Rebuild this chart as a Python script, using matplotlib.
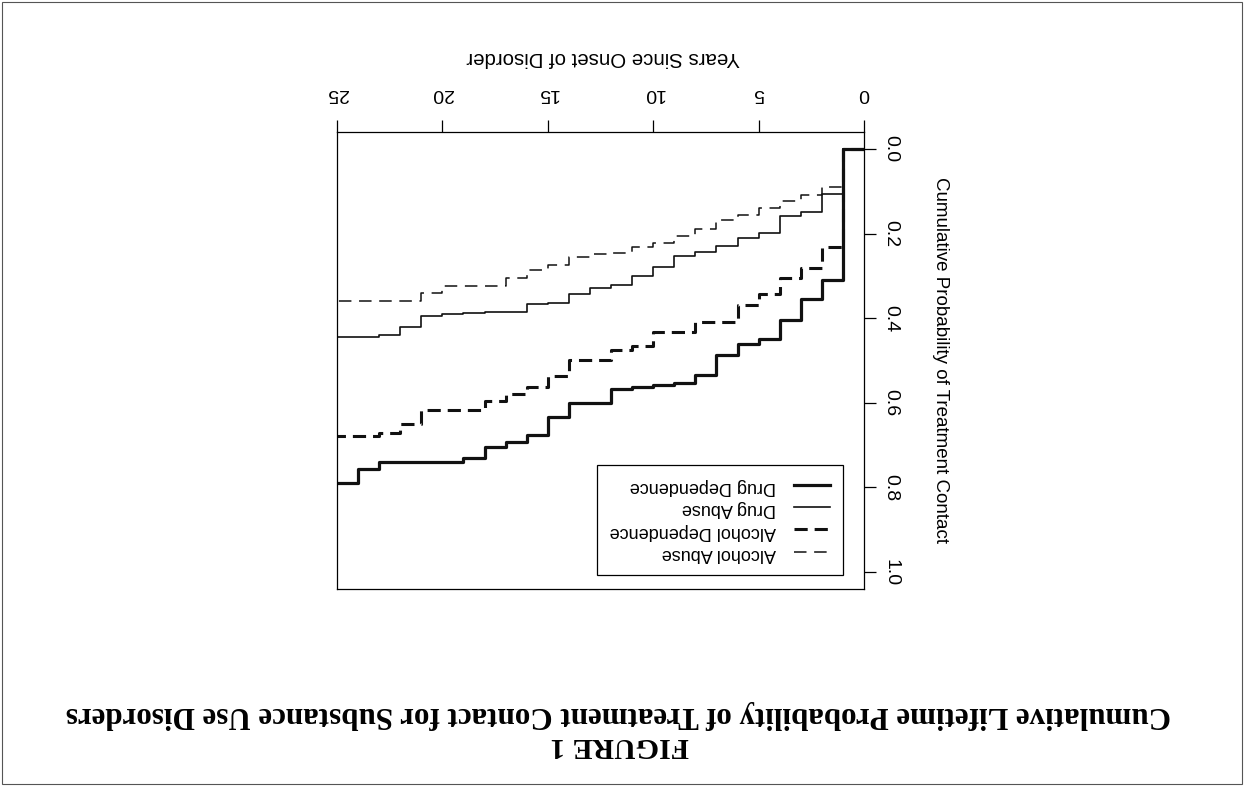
import matplotlib
matplotlib.use('Agg')
import matplotlib.pyplot as plt
from matplotlib.patches import Rectangle

plt.rcParams['font.family'] = ['Liberation Sans', 'DejaVu Sans']
plt.rcParams['lines.scale_dashes'] = False

# years since onset; each value holds from that year to the next one
years = list(range(26))
drug_dependence = [0.0, 0.31, 0.355, 0.404, 0.45, 0.46, 0.487, 0.534, 0.552, 0.558,
                   0.562, 0.568, 0.600, 0.600, 0.633, 0.676, 0.692, 0.704, 0.731, 0.739,
                   0.739, 0.739, 0.739, 0.757, 0.789]
drug_abuse = [0.0, 0.106, 0.148, 0.158, 0.199, 0.211, 0.229, 0.243, 0.253, 0.278,
              0.300, 0.322, 0.329, 0.343, 0.363, 0.366, 0.386, 0.386, 0.388, 0.390,
              0.396, 0.420, 0.440, 0.445, 0.445]
alcohol_dependence = [0.0, 0.231, 0.281, 0.306, 0.344, 0.369, 0.408, 0.408, 0.432, 0.432,
                      0.466, 0.475, 0.500, 0.500, 0.536, 0.562, 0.578, 0.595, 0.617, 0.617,
                      0.617, 0.649, 0.671, 0.679, 0.679]
alcohol_abuse = [0.0, 0.091, 0.110, 0.124, 0.140, 0.156, 0.169, 0.189, 0.205, 0.223,
                 0.232, 0.247, 0.249, 0.256, 0.274, 0.286, 0.306, 0.324, 0.324, 0.324,
                 0.340, 0.360, 0.360, 0.360, 0.360]

labels = ['Drug Dependence', 'Drug Abuse', 'Alcohol Dependence', 'Alcohol Abuse']
xticks = [0, 5, 10, 15, 20, 25]
yticks = [0.0, 0.2, 0.4, 0.6, 0.8, 1.0]
ytick_labels = ['0.0', '0.2', '0.4', '0.6', '0.8', '1.0']

W, H = 1246, 786
fig = plt.figure(figsize=(W / 100, H / 100), dpi=100)
ax = fig.add_axes([337 / W, 1 - 589 / H, (864 - 337) / W, (589 - 132) / H])

ink = '#111111'
# the scanned page is upside down, so both axes are reversed
l_aa, = ax.step(years, alcohol_abuse + alcohol_abuse[-1:], where='post', color=ink, lw=1.1, dashes=(9.0, 5.5))
l_ad, = ax.step(years, alcohol_dependence + alcohol_dependence[-1:], where='post', color=ink, lw=2.2, dashes=(9.5, 5.0))
l_da, = ax.step(years, drug_abuse + drug_abuse[-1:], where='post', color=ink, lw=1.2)
l_dd, = ax.step(years, drug_dependence + drug_dependence[-1:], where='post', color=ink, lw=2.3)

ax.set_xlim(25, 0)
ax.set_ylim(1.04, -0.04)
ax.xaxis.tick_top()
ax.yaxis.tick_right()
ax.set_xticks(xticks)
ax.set_yticks(yticks, ytick_labels)
ax.tick_params(axis='both', direction='out', length=8.5, width=0.9, labelsize=14, colors='black')
ax.tick_params(axis='x', pad=13)
ax.tick_params(axis='y', pad=5)
for lbl in ax.get_xticklabels():
    lbl.set_rotation(180)
for lbl in ax.get_yticklabels():
    lbl.set_rotation(270)
    lbl.set_va('center')
for sp in ax.spines.values():
    sp.set_linewidth(0.9)

leg = ax.legend([l_dd, l_da, l_ad, l_aa], labels, loc='lower right',
                bbox_to_anchor=(0.960, 0.031), borderaxespad=0, markerfirst=False,
                fancybox=False, edgecolor='black', framealpha=1, fontsize=13,
                handlelength=2.0, handletextpad=1.0, labelspacing=0.3, borderpad=0.7)
leg.get_frame().set_linewidth(0.9)
for t in leg.get_texts():
    t.set_rotation(180)

fig.text(603 / W, 1 - 57 / H, 'Years Since Onset of Disorder', rotation=180,
         ha='center', va='center', fontsize=14.7)
fig.text(940 / W, 1 - 360 / H, 'Cumulative Probability of Treatment Contact', rotation=270,
         ha='center', va='center', fontsize=13.5)

serif = ['Liberation Serif', 'DejaVu Serif']
fig.text(618 / W, 1 - 714 / H,
         'Cumulative Lifetime Probability of Treatment Contact for Substance Use Disorders',
         rotation=180, ha='center', va='center', family=serif, weight='bold', fontsize=22.3)
fig.text(620 / W, 1 - 746 / H, 'FIGURE 1', rotation=180, ha='center', va='center',
         family=serif, weight='bold', fontsize=21.5)

# page border of the scan
fig.add_artist(Rectangle((0.002, 0.003), 0.995, 0.994, transform=fig.transFigure,
                         fill=False, lw=0.8, ec='#555555'))

fig.savefig('out.png', dpi=100)
